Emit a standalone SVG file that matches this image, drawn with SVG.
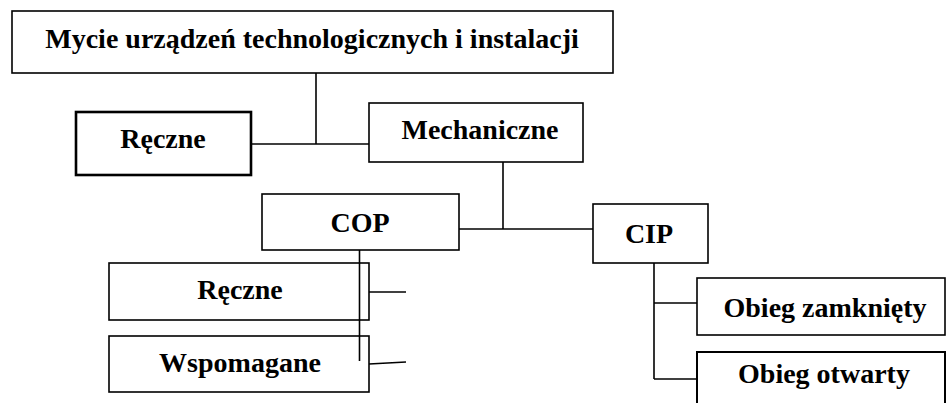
<svg xmlns="http://www.w3.org/2000/svg" width="947" height="403" viewBox="0 0 947 403">
<style>
.box{fill:#fff;stroke:#000;stroke-width:1.6}
.thick{stroke-width:2.6}
.t{font-family:"Liberation Serif","Times New Roman",serif;font-weight:bold;font-size:28px;fill:#000;text-anchor:middle}
.c{stroke:#000;stroke-width:1.6;fill:none}
</style>
<rect width="947" height="403" fill="#fff"/>
<g id="connectors">
<line class="c" x1="316" y1="73" x2="316" y2="144"/>
<line class="c" x1="251" y1="144" x2="369" y2="144"/>
<line class="c" x1="503" y1="162" x2="503" y2="229"/>
<line class="c" x1="459" y1="229" x2="593" y2="229"/>
<line class="c" x1="654" y1="263" x2="654" y2="379"/>
<line class="c" x1="654" y1="303" x2="697" y2="303"/>
<line class="c" x1="654" y1="379" x2="697" y2="379"/>
<line class="c" x1="369" y1="292" x2="406" y2="292"/>
<line class="c" x1="369" y1="364" x2="406" y2="362"/>
</g>
<g id="n-mycie">
<rect class="box" x="12" y="11" width="601" height="62"/>
<text class="t" x="312" y="48">Mycie urządzeń technologicznych i instalacji</text>
</g>
<g id="n-reczne1">
<rect class="box thick" x="76" y="112" width="175" height="63"/>
<text class="t" x="163" y="148">Ręczne</text>
</g>
<g id="n-mechaniczne">
<rect class="box" x="369" y="103" width="214" height="59"/>
<text class="t" x="480" y="139">Mechaniczne</text>
</g>
<g id="n-cop">
<rect class="box" x="262" y="194" width="197" height="56"/>
<text class="t" x="360" y="232">COP</text>
</g>
<g id="n-cip">
<rect class="box" x="593" y="204" width="115" height="59"/>
<text class="t" x="649" y="243">CIP</text>
</g>
<g id="n-reczne2">
<rect class="box" x="109" y="263" width="260" height="57"/>
<text class="t" x="240" y="299">Ręczne</text>
</g>
<g id="n-wspomagane">
<rect class="box" x="109" y="336" width="260" height="56"/>
<text class="t" x="240" y="372">Wspomagane</text>
</g>
<g id="cop-line">
<line class="c" x1="359.5" y1="250" x2="359.5" y2="361"/>
</g>
<g id="n-zamkniety">
<rect class="box" x="697" y="278" width="248" height="57"/>
<text class="t" x="825" y="317">Obieg zamknięty</text>
</g>
<g id="n-otwarty">
<rect class="box" x="697" y="352" width="248" height="60" style="stroke-width:2"/>
<text class="t" x="824" y="383">Obieg otwarty</text>
</g>
</svg>
